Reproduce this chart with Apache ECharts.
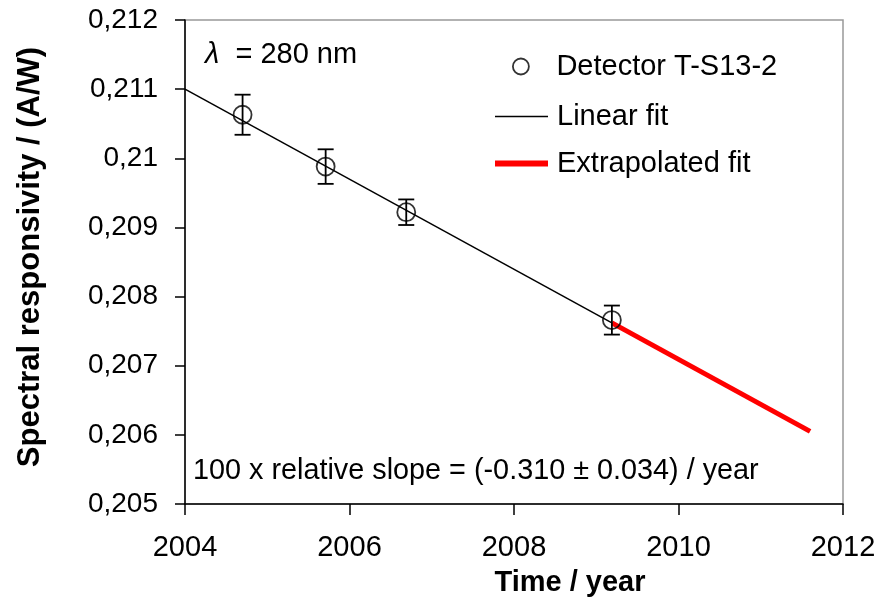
<!DOCTYPE html>
<html>
<head>
<meta charset="utf-8">
<script src="https://cdn.jsdelivr.net/npm/echarts@6/dist/echarts.min.js"></script>
<style>html,body{margin:0;padding:0;background:#fff}#c{width:891px;height:601px}</style>
</head>
<body>
<div id="c"></div>
<script>
// Measured data
const years = [2004.70, 2005.71, 2006.69, 2009.19];
const responsivity = [0.21063, 0.20988, 0.20922, 0.20766];
const errors = [0.00029, 0.00025, 0.000185, 0.00021];
const fitYears = [2004, 2009.19];
const fitValues = [0.211, 0.20762];
const extraYears = [2009.19, 2011.6];
const extraValues = [0.20762, 0.20605];
const xTicks = [2004, 2006, 2008, 2010, 2012];
const yTicks = [0.205, 0.206, 0.207, 0.208, 0.209, 0.21, 0.211, 0.212];

const FONT = 'Liberation Sans, Arial, sans-serif';
const chart = echarts.init(document.getElementById('c'), null, {renderer: 'canvas'});

const points = years.map((x, i) => [x, responsivity[i]]);
const errData = years.map((x, i) => [x, responsivity[i] - errors[i], responsivity[i] + errors[i]]);

const legendText = {fontFamily: FONT, fontSize: 29, color: '#000', padding: [0, 0, 0, 4]};
const legendBase = {orient: 'vertical', left: 495, padding: 0, itemWidth: 53, selectedMode: false, textStyle: legendText};

chart.setOption({
  animation: false,
  backgroundColor: '#fff',
  grid: {left: 185, right: 48, top: 20, bottom: 97, show: true, borderColor: '#999', borderWidth: 1.5,
         backgroundColor: 'transparent', containLabel: false, outerBoundsMode: 'none'},
  xAxis: {
    type: 'value', min: xTicks[0], max: xTicks[xTicks.length - 1], interval: 2,
    name: 'Time / year', nameLocation: 'middle', nameGap: 64,
    nameTextStyle: {fontFamily: FONT, fontSize: 29, fontWeight: 'bold', color: '#000', padding: [0, 0, 0, 112]},
    axisLine: {lineStyle: {color: '#000', width: 1.5}},
    axisTick: {inside: false, length: 11, lineStyle: {color: '#000', width: 1.5}},
    axisLabel: {margin: 29, fontFamily: FONT, fontSize: 29, color: '#000', formatter: v => String(v)},
    splitLine: {show: false}
  },
  yAxis: {
    type: 'value', min: yTicks[0], max: yTicks[yTicks.length - 1], interval: 0.001,
    name: 'Spectral responsivity / (A/W)', nameLocation: 'middle', nameGap: 139, nameRotate: 90,
    nameTextStyle: {fontFamily: FONT, fontSize: 31, fontWeight: 'bold', color: '#000', padding: [0, 0, 0, 10]},
    axisLine: {lineStyle: {color: '#000', width: 1.5}},
    axisTick: {inside: false, length: 10, lineStyle: {color: '#000', width: 1.5}},
    axisLabel: {margin: 27, fontFamily: FONT, fontSize: 28, color: '#000',
      formatter: v => String(+v.toFixed(3)).replace('.', ',')},
    splitLine: {show: false}
  },
  legend: [
    Object.assign({}, legendBase, {left: 512, top: 52, itemHeight: 16,
      data: [{name: 'Detector T-S13-2', icon: 'circle', itemStyle: {color: '#fff', borderColor: '#000', borderWidth: 1.8}}]}),
    Object.assign({}, legendBase, {top: 102, itemHeight: 1.5,
      data: [{name: 'Linear fit', icon: 'rect', itemStyle: {color: '#000', borderWidth: 0}}]}),
    Object.assign({}, legendBase, {top: 149, itemHeight: 6,
      data: [{name: 'Extrapolated fit', icon: 'rect', itemStyle: {color: '#ff0000', borderWidth: 0}}]})
  ],
  graphic: [
    {type: 'text', left: 205, top: 40, style: {
      rich: {i: {fontStyle: 'italic', fontFamily: FONT, fontSize: 29, fill: '#000'},
             n: {fontFamily: FONT, fontSize: 29, fill: '#000'}},
      text: '{i|λ}{n|  = 280 nm}'}},
    {type: 'text', left: 193, top: 457, style: {fontFamily: FONT, fontSize: 28.8, fill: '#000',
      text: '100 x relative slope = (-0.310 ± 0.034) / year'}}
  ],
  series: [
    {name: 'Linear fit', type: 'line', symbol: 'none', data: fitYears.map((x, i) => [x, fitValues[i]]),
     lineStyle: {color: '#000', width: 1.5}, itemStyle: {color: '#000'}, z: 2},
    {name: 'Extrapolated fit', type: 'line', symbol: 'none', data: extraYears.map((x, i) => [x, extraValues[i]]),
     lineStyle: {color: '#ff0000', width: 5}, itemStyle: {color: '#ff0000'}, z: 2},
    {name: 'errbars', type: 'custom', data: errData, z: 3,
     renderItem: function (params, api) {
       const x = api.value(0);
       const lo = api.coord([x, api.value(1)]);
       const hi = api.coord([x, api.value(2)]);
       const w = 8;
       const st = {stroke: '#000', lineWidth: 1.8};
       return {type: 'group', children: [
         {type: 'line', shape: {x1: lo[0], y1: lo[1], x2: hi[0], y2: hi[1]}, style: st},
         {type: 'line', shape: {x1: lo[0] - w, y1: lo[1], x2: lo[0] + w, y2: lo[1]}, style: st},
         {type: 'line', shape: {x1: hi[0] - w, y1: hi[1], x2: hi[0] + w, y2: hi[1]}, style: st}
       ]};
     }},
    {name: 'Detector T-S13-2', type: 'scatter', data: points, symbol: 'circle', symbolSize: 18, z: 4,
     itemStyle: {color: 'rgba(255,255,255,0)', borderColor: '#000', borderWidth: 1.8}}
  ]
});
</script>
</body>
</html>
